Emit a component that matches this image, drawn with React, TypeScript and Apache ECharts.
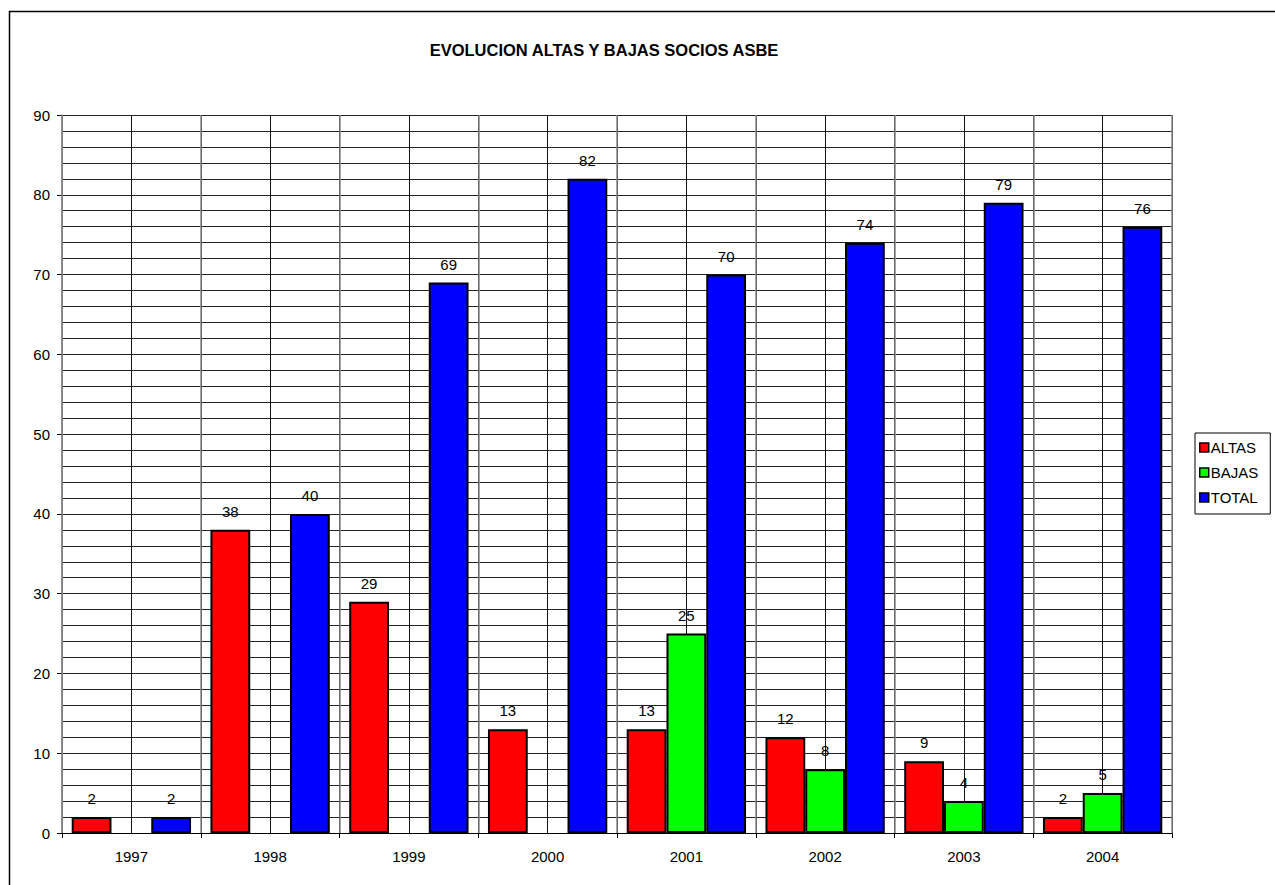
import React, { useEffect, useRef } from "react";
import * as echarts from "echarts";

const years = ["1997", "1998", "1999", "2000", "2001", "2002", "2003", "2004"];
const altas = [2, 38, 29, 13, 13, 12, 9, 2];
const bajas: (number | null)[] = [null, null, null, null, 25, 8, 4, 5];
const total = [2, 40, 69, 82, 70, 74, 79, 76];
const halfSlots = Array.from({ length: years.length * 2 }, (_, i) => String(i));

const FONT = "Liberation Sans, Arial, sans-serif";

export default function App() {
  const ref = useRef<HTMLDivElement>(null);
  useEffect(() => {
    if (!ref.current) return;
    const chart = echarts.init(ref.current, null, { renderer: "svg" });
    const label = {
      show: true,
      position: "top" as const,
      distance: 11,
      fontSize: 15,
      color: "#000",
      fontFamily: FONT,
    };
    const itemStyle = (c: string) => ({ color: c, borderColor: "#000", borderWidth: 2 });
    chart.setOption({
      animation: false,
      backgroundColor: "#fff",
      textStyle: { fontFamily: FONT },
      title: {
        text: "EVOLUCION ALTAS Y BAJAS SOCIOS ASBE",
        left: 599,
        top: 36,
        textAlign: "center",
        textStyle: { fontSize: 16.5, fontWeight: "bold", color: "#000", fontFamily: FONT },
      },
      graphic: [
        {
          type: "rect",
          shape: { x: 9.5, y: 11.5, width: 1300, height: 900 },
          style: { fill: "none", stroke: "#000", lineWidth: 1.5 },
          silent: true,
        },
      ],
      legend: {
        orient: "vertical",
        left: 1195,
        top: 433,
        itemWidth: 9,
        itemHeight: 9,
        itemGap: 10,
        padding: [7, 12, 9, 4],
        borderColor: "#000",
        borderWidth: 1,
        icon: "rect",
        textStyle: { fontSize: 15, color: "#000", fontFamily: FONT, padding: [0, 0, 0, -3] },
        data: [
          { name: "ALTAS", itemStyle: { color: "#ff0000", borderColor: "#000", borderWidth: 1.5 } },
          { name: "BAJAS", itemStyle: { color: "#00ff00", borderColor: "#000", borderWidth: 1.5 } },
          { name: "TOTAL", itemStyle: { color: "#0000ff", borderColor: "#000", borderWidth: 1.5 } },
        ],
      },
      grid: { left: 62, top: 115, right: 103, bottom: 52, containLabel: false },
      xAxis: [
        {
          type: "category",
          data: years,
          boundaryGap: true,
          axisLine: { show: true, lineStyle: { color: "#000", width: 1 } },
          axisTick: { show: true, length: 5, lineStyle: { color: "#000" } },
          axisLabel: { fontSize: 15, color: "#000", margin: 16, fontFamily: FONT },
          splitLine: { show: true, lineStyle: { color: "#888", width: 1.5 } },
          z: 3,
        },
        {
          type: "category",
          data: halfSlots,
          position: "bottom",
          boundaryGap: true,
          axisLine: { show: false },
          axisTick: { show: false },
          axisLabel: { show: false },
          splitLine: { show: true, lineStyle: { color: "#111", width: 1 } },
        },
      ],
      yAxis: {
        type: "value",
        min: 0,
        max: 90,
        interval: 10,
        axisLine: { show: true, lineStyle: { color: "#888", width: 1.5 } },
        axisTick: { show: true, length: 5, lineStyle: { color: "#000" } },
        axisLabel: { fontSize: 15, color: "#000", margin: 12, fontFamily: FONT },
        splitLine: { show: true, lineStyle: { color: "#222", width: 1 } },
        minorTick: { show: false, splitNumber: 5 },
        minorSplitLine: { show: true, lineStyle: { color: "#222", width: 1 } },
      },
      series: [
        { name: "ALTAS", type: "bar", data: altas, barGap: "0%", barCategoryGap: "14%", itemStyle: itemStyle("#ff0000"), label },
        { name: "BAJAS", type: "bar", data: bajas, barGap: "0%", barCategoryGap: "14%", itemStyle: itemStyle("#00ff00"), label },
        { name: "TOTAL", type: "bar", data: total, barGap: "0%", barCategoryGap: "14%", itemStyle: itemStyle("#0000ff"), label },
      ],
    });
    return () => chart.dispose();
  }, []);
  return <div ref={ref} style={{ position: "absolute", left: 0, top: 0, width: 1275, height: 885 }} />;
}
